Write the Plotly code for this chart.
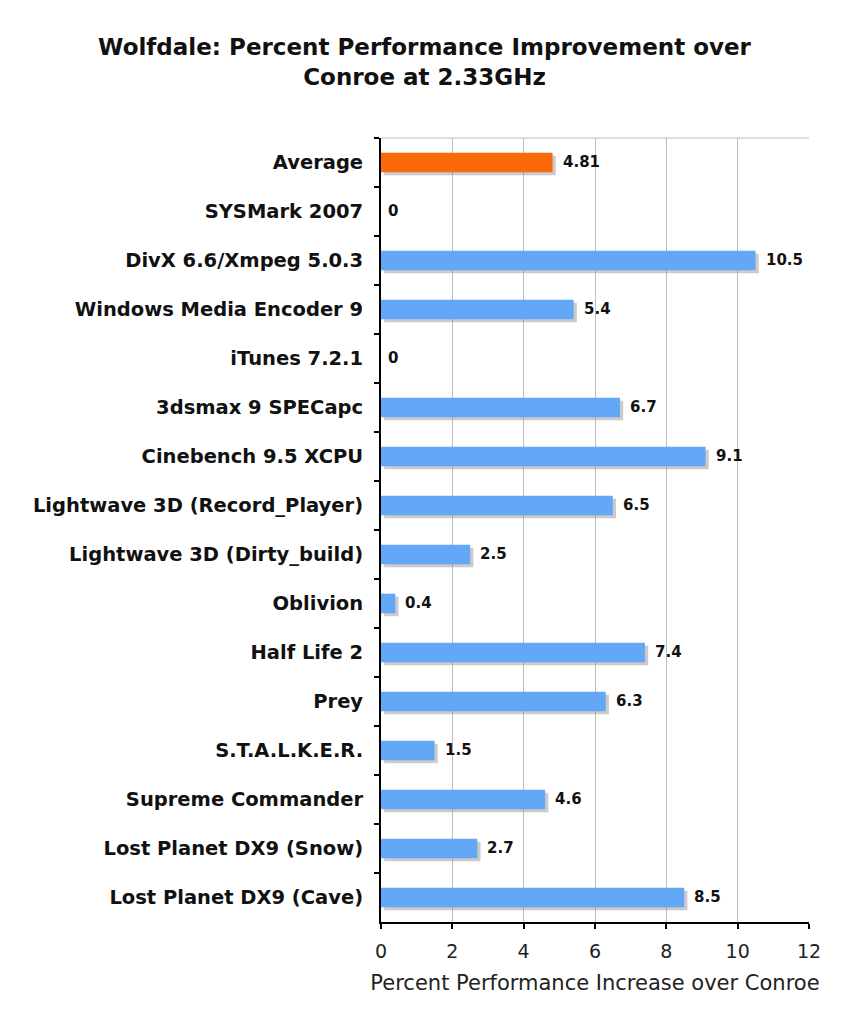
import plotly.graph_objects as go

categories = [
    "Average", "SYSMark 2007", "DivX 6.6/Xmpeg 5.0.3", "Windows Media Encoder 9",
    "iTunes 7.2.1", "3dsmax 9 SPECapc", "Cinebench 9.5 XCPU",
    "Lightwave 3D (Record_Player)", "Lightwave 3D (Dirty_build)", "Oblivion",
    "Half Life 2", "Prey", "S.T.A.L.K.E.R.", "Supreme Commander",
    "Lost Planet DX9 (Snow)", "Lost Planet DX9 (Cave)",
]
values = [4.81, 0, 10.5, 5.4, 0, 6.7, 9.1, 6.5, 2.5, 0.4, 7.4, 6.3, 1.5, 4.6, 2.7, 8.5]
value_labels = ["4.81", "0", "10.5", "5.4", "0", "6.7", "9.1", "6.5", "2.5", "0.4",
                "7.4", "6.3", "1.5", "4.6", "2.7", "8.5"]
x_ticks = [0, 2, 4, 6, 8, 10, 12]

BLUE = "#63a7f7"
ORANGE = "#fb6a0a"
colors = [ORANGE] + [BLUE] * (len(categories) - 1)

fig = go.Figure()
# shadow
fig.add_trace(go.Bar(
    y=categories, x=values, base=0.09,
    orientation="h", width=0.4, offset=-0.14,
    marker=dict(color="rgba(140,140,140,0.45)", line=dict(width=0)),
    hoverinfo="skip", showlegend=False,
))
fig.add_trace(go.Bar(
    y=categories, x=values, orientation="h", width=0.4, offset=-0.2,
    marker=dict(color=colors, line=dict(width=0)), showlegend=False,
))

for c, v, t in zip(categories, values, value_labels):
    fig.add_annotation(x=v, y=c, text=t, showarrow=False, xanchor="left",
                       xshift=8 if v > 0 else 5, yshift=1,
                       font=dict(family="DejaVu Sans", size=15, color="#111111", weight="bold"))

fig.update_layout(
    width=849, height=1024,
    margin=dict(l=381, r=40, t=138, b=102),
    paper_bgcolor="white", plot_bgcolor="white",
    bargap=0.6,
    title=dict(
        text="<b>Wolfdale: Percent Performance Improvement over<br>Conroe at 2.33GHz</b>",
        x=0.5, xanchor="center", y=0.946, yanchor="top",
        font=dict(family="DejaVu Sans", size=23, color="#111111"),
    ),
    xaxis=dict(
        range=[0, 12], tickvals=x_ticks, ticktext=[str(t) for t in x_ticks],
        showgrid=True, gridcolor="#bdbdbd", gridwidth=1,
        showline=True, linecolor="black", linewidth=2,
        ticks="outside", ticklen=5, tickcolor="black", tickwidth=1.5,
        tickfont=dict(family="DejaVu Sans", size=19, color="#222222"),
        ticklabelstandoff=6,
        title=dict(text="Percent Performance Increase over Conroe", standoff=15,
                   font=dict(family="DejaVu Sans", size=21, color="#222222")),
        zeroline=False, fixedrange=True,
    ),
    yaxis=dict(
        autorange="reversed", type="category",
        showline=True, linecolor="black", linewidth=2,
        ticks="outside", ticklen=5, tickcolor="black", tickwidth=1.5,
        tickson="boundaries", showgrid=False,
        tickfont=dict(family="DejaVu Sans", size=19.5, color="#111111", weight="bold"),
        ticklabelstandoff=12,
    ),
)
fig.add_shape(type="line", xref="paper", yref="paper", x0=0, x1=1, y0=1, y1=1,
              line=dict(color="#bdbdbd", width=1))

fig.write_html("out.html")
